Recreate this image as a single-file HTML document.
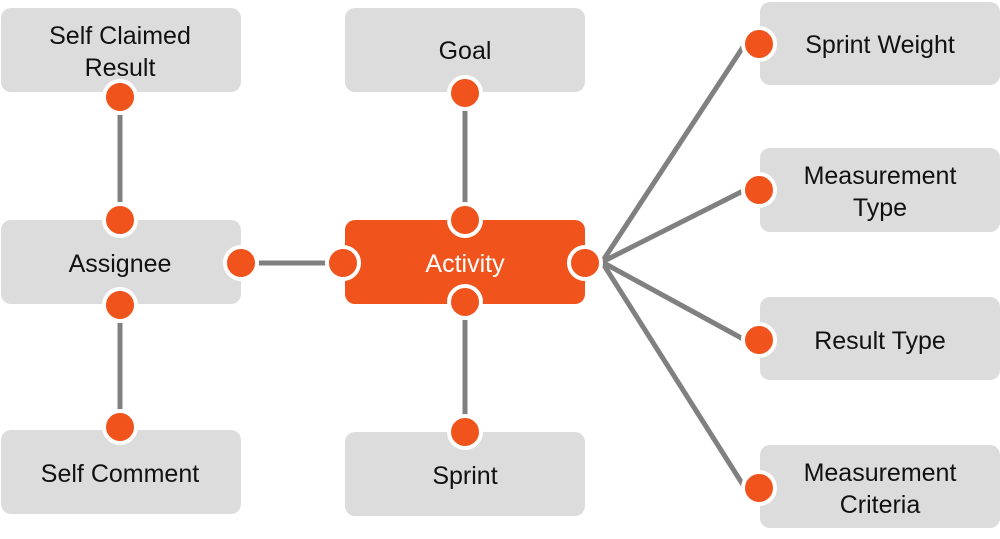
<!DOCTYPE html><html><head><style>body{margin:0;background:#fff}</style></head><body>
<svg width="1000" height="534" viewBox="0 0 1000 534" xmlns="http://www.w3.org/2000/svg" font-family="Liberation Sans, DejaVu Sans, sans-serif" font-size="25" text-anchor="middle">
<g fill="#dcdcdc">
<rect x="1" y="8" width="240" height="84" rx="10"/>
<rect x="345" y="8" width="240" height="84" rx="10"/>
<rect x="760" y="2" width="240" height="83" rx="10"/>
<rect x="1" y="220" width="240" height="84" rx="10"/>
<rect x="760" y="148" width="240" height="84" rx="10"/>
<rect x="760" y="297" width="240" height="83" rx="10"/>
<rect x="1" y="430" width="240" height="84" rx="10"/>
<rect x="345" y="432" width="240" height="84" rx="10"/>
<rect x="760" y="445" width="240" height="83" rx="10"/>
</g>
<rect x="345" y="220" width="240" height="84" rx="10" fill="#f0531c"/>
<g stroke="#808080" stroke-width="5">
<line x1="120" y1="97" x2="120" y2="220"/>
<line x1="120" y1="305" x2="120" y2="427"/>
<line x1="465" y1="93" x2="465" y2="220"/>
<line x1="465" y1="302" x2="465" y2="432"/>
<line x1="241" y1="263" x2="343" y2="263"/>
<line x1="602" y1="262" x2="745" y2="44"/>
<line x1="602" y1="262" x2="745" y2="190"/>
<line x1="602" y1="262" x2="745" y2="340"/>
<line x1="602" y1="262" x2="745" y2="488"/>
</g>
<g fill="#f0531c" stroke="#fff" stroke-width="4">
<circle cx="120" cy="97" r="16"/><circle cx="120" cy="220" r="16"/>
<circle cx="120" cy="305" r="16"/><circle cx="120" cy="427" r="16"/>
<circle cx="241" cy="263" r="16"/><circle cx="343" cy="263" r="16"/>
<circle cx="585" cy="263" r="16"/><circle cx="465" cy="220" r="16"/>
<circle cx="465" cy="302" r="16"/><circle cx="465" cy="93" r="16"/>
<circle cx="465" cy="432" r="16"/><circle cx="759" cy="44" r="16"/>
<circle cx="759" cy="190" r="16"/><circle cx="759" cy="340" r="16"/>
<circle cx="759" cy="488" r="16"/>
</g>
<g fill="#111">
<text x="120" y="44">Self Claimed</text><text x="120" y="76">Result</text>
<text x="465" y="59">Goal</text>
<text x="880" y="53">Sprint Weight</text>
<text x="120" y="272">Assignee</text>
<text x="880" y="184">Measurement</text><text x="880" y="216">Type</text>
<text x="880" y="349">Result Type</text>
<text x="120" y="482">Self Comment</text>
<text x="465" y="484">Sprint</text>
<text x="880" y="481">Measurement</text><text x="880" y="513">Criteria</text>
</g>
<text x="465" y="272" fill="#fff">Activity</text>
</svg>
</body></html>
